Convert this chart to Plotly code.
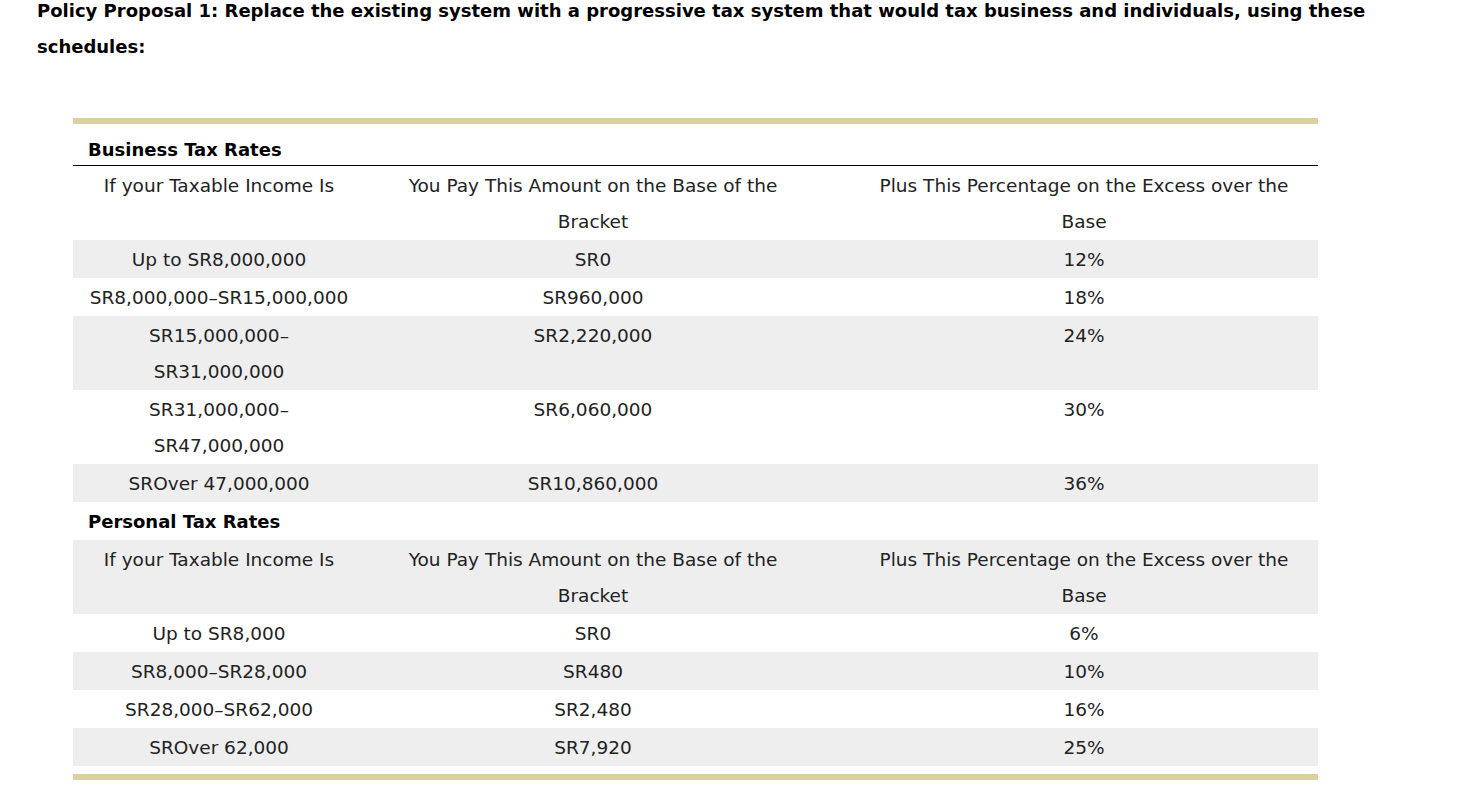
import plotly.graph_objects as go

# ---------------- data ----------------
title_lines = [
    "Policy Proposal 1: Replace the existing system with a progressive tax system that would tax business and individuals, using these",
    "schedules:",
]
header = [
    ["If your Taxable Income Is"],
    ["You Pay This Amount on the Base of the", "Bracket"],
    ["Plus This Percentage on the Excess over the", "Base"],
]
business_title = "Business Tax Rates"
business_income = [["Up to SR8,000,000"], ["SR8,000,000–SR15,000,000"],
                   ["SR15,000,000–", "SR31,000,000"], ["SR31,000,000–", "SR47,000,000"],
                   ["SROver 47,000,000"]]
business_base = ["SR0", "SR960,000", "SR2,220,000", "SR6,060,000", "SR10,860,000"]
business_rate = ["12%", "18%", "24%", "30%", "36%"]

personal_title = "Personal Tax Rates"
personal_income = [["Up to SR8,000"], ["SR8,000–SR28,000"], ["SR28,000–SR62,000"], ["SROver 62,000"]]
personal_base = ["SR0", "SR480", "SR2,480", "SR7,920"]
personal_rate = ["6%", "10%", "16%", "25%"]

# ---------------- styling ----------------
W, H = 1460, 787
FONT = "DejaVu Sans"
TXT = "#222222"
GRAY = "#eeeeee"
GOLD = "#dccfa4"
TABLE_X0, TABLE_X1 = 73, 1318
COL_CENTERS = [219, 593, 1084]
LINE_H = 36
FS = 18.5
FS_B = 18
TEXT_DY = 21

rows = [("header", header)]
for inc, b, r in zip(business_income, business_base, business_rate):
    rows.append(("body", [inc, [b], [r]]))
rows.append(("section", personal_title))
rows.append(("header", header))
for inc, b, r in zip(personal_income, personal_base, personal_rate):
    rows.append(("body", [inc, [b], [r]]))

fig = go.Figure()
shapes = []

shapes.append(dict(type="rect", xref="x", yref="y", x0=TABLE_X0, x1=TABLE_X1, y0=118, y1=124,
                   fillcolor=GOLD, line=dict(width=0), layer="below"))
shapes.append(dict(type="line", xref="x", yref="y", x0=TABLE_X0, x1=TABLE_X1, y0=165.5, y1=165.5,
                   line=dict(color="#000000", width=1)))

tx, ty, tt = [], [], []
lx, ly, lt = [], [], []

lx.append(88); ly.append(151); lt.append("<b>%s</b>" % business_title)

y = 166
for i, (kind, cells) in enumerate(rows):
    n = 1 if kind == "section" else max(len(c) for c in cells)
    h = LINE_H * n + 2
    if i % 2 == 1:
        shapes.append(dict(type="rect", xref="x", yref="y", x0=TABLE_X0, x1=TABLE_X1, y0=y, y1=y + h,
                           fillcolor=GRAY, line=dict(width=0), layer="below"))
    if kind == "section":
        lx.append(88); ly.append(y + TEXT_DY); lt.append("<b>%s</b>" % cells)
    else:
        for cx, cell in zip(COL_CENTERS, cells):
            for k, line in enumerate(cell):
                tx.append(cx); ty.append(y + TEXT_DY + k * LINE_H); tt.append(line)
    y += h

shapes.append(dict(type="rect", xref="x", yref="y", x0=TABLE_X0, x1=TABLE_X1, y0=y + 8, y1=y + 14,
                   fillcolor=GOLD, line=dict(width=0), layer="below"))

fig.add_trace(go.Scatter(x=tx, y=ty, text=tt, mode="text", textposition="middle center",
                         textfont=dict(family=FONT, size=FS, color=TXT), hoverinfo="skip",
                         showlegend=False, cliponaxis=False))
fig.add_trace(go.Scatter(x=lx, y=ly, text=lt, mode="text", textposition="middle right",
                         textfont=dict(family=FONT, size=FS_B, color="#000000"), hoverinfo="skip",
                         showlegend=False, cliponaxis=False))
fig.add_trace(go.Scatter(x=[37, 37], y=[12, 48], text=["<b>%s</b>" % t for t in title_lines],
                         mode="text", textposition="middle right",
                         textfont=dict(family=FONT, size=FS_B, color="#000000"), hoverinfo="skip",
                         showlegend=False, cliponaxis=False))

fig.update_layout(
    width=W, height=H,
    margin=dict(l=0, r=0, t=0, b=0),
    paper_bgcolor="white", plot_bgcolor="white",
    shapes=shapes,
    hovermode=False,
    xaxis=dict(range=[0, W], visible=False, fixedrange=True),
    yaxis=dict(range=[H, 0], visible=False, fixedrange=True),
)
fig.write_html("out.html", config={"displayModeBar": False, "staticPlot": True},
               post_script="document.body.style.margin='0';document.body.style.overflow='hidden';")
